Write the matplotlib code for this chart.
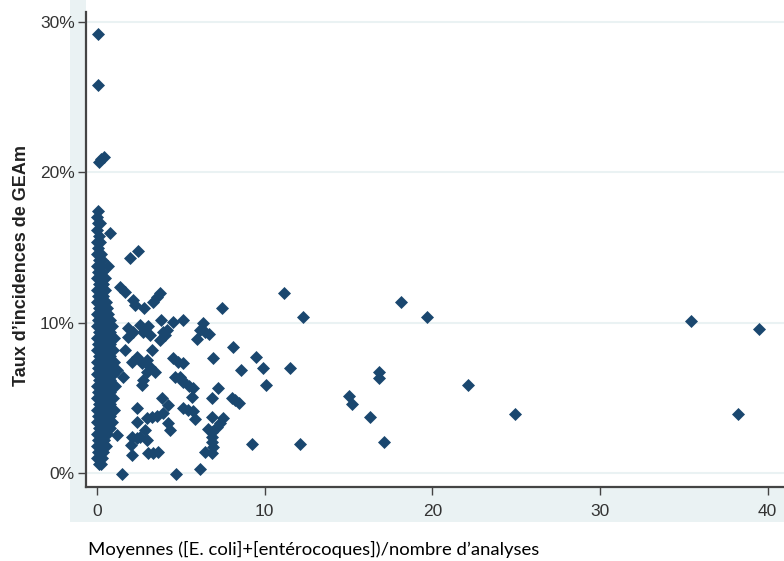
import matplotlib
matplotlib.use("Agg")
import matplotlib.pyplot as plt
from matplotlib.patches import Rectangle

# isolated points: mean (E. coli + enterococci) / n analyses vs incidence rate (%)
pts_x = [
    0.05, 0.05, 0.1, 0.25, 0.4,
    0.8, 0.65, 1.95, 2.45, 1.35, 1.65, 2.15, 2.25, 2.8, 3.35, 3.6, 3.75,
    1.85, 2.55, 3.05, 3.8, 4.5, 5.1, 3.95, 4.2, 7.45,
    6.3, 6.15, 6.45, 6.65, 5.95,
    1.85, 2.15, 2.75, 3.15, 4.05, 3.75, 1.65, 2.4, 2.1, 2.7, 3.0, 3.3,
    3.15, 3.0, 2.75, 2.7, 3.45, 4.5, 4.8, 5.1, 4.65, 5.05, 1.55, 1.2,
    3.9, 2.4, 4.25, 3.0, 3.3, 3.6, 3.95, 2.4, 4.25, 4.35,
    1.2, 2.1, 2.4, 2.55, 2.85, 3.0, 2.0, 2.1, 3.05, 3.35, 3.65, 1.5, 4.7,
    8.1, 6.9, 9.5, 9.9, 11.5, 8.6, 10.1, 4.95, 5.1, 5.5, 5.7, 5.65,
    7.2, 6.85, 8.05, 8.2, 8.45, 5.1, 5.4, 5.7, 5.85, 6.85, 7.5, 7.35, 7.15,
    6.85, 6.85, 6.85, 6.9, 6.6, 6.45, 6.85, 9.25, 12.1, 6.15,
    11.15, 12.3, 18.1, 19.7, 35.4, 39.5, 22.1, 24.9, 38.2,
    16.8, 16.8, 15.0, 15.2, 16.3, 17.1,
]
pts_y = [
    29.2, 25.8, 20.7, 20.9, 21.0,
    16.0, 13.8, 14.3, 14.8, 12.4, 12.05, 11.5, 11.2, 11.0, 11.4, 11.7, 12.0,
    9.65, 9.85, 9.8, 10.2, 10.05, 10.2, 9.4, 9.5, 11.0,
    10.0, 9.5, 9.35, 9.25, 8.9,
    9.05, 9.4, 9.4, 9.2, 9.2, 8.85, 8.2, 7.7, 7.4, 7.3, 7.5, 8.2,
    7.05, 6.7, 6.2, 5.85, 6.7, 7.65, 7.4, 7.3, 6.4, 6.2, 6.4, 6.85,
    5.0, 4.3, 4.5, 3.65, 3.7, 3.8, 4.0, 3.4, 3.3, 2.85,
    2.5, 2.4, 2.3, 2.4, 2.85, 2.2, 1.85, 1.2, 1.35, 1.35, 1.4, -0.05, -0.05,
    8.4, 7.65, 7.7, 7.0, 7.0, 6.85, 5.85, 6.4, 6.05, 5.8, 5.65, 5.05,
    5.65, 5.0, 5.0, 4.85, 4.65, 4.3, 4.2, 4.1, 3.6, 3.7, 3.65, 3.3, 3.05,
    2.7, 2.4, 2.05, 1.7, 2.9, 1.4, 1.3, 1.9, 1.9, 0.27,
    12.0, 10.4, 11.4, 10.4, 10.1, 9.6, 5.85, 3.95, 3.95,
    6.7, 6.3, 5.1, 4.6, 3.7, 2.05,
]

# dense column of sites with very low contamination (x near 0)
col_y = [
    17.4,
    17.0,
    16.6, 16.6,
    16.2,
    15.8,
    15.4, 15.4,
    15.0,
    14.6, 14.6,
    14.2, 14.2,
    13.8, 13.8,
    13.4, 13.4,
    13.0, 13.0, 13.0,
    12.6, 12.6,
    12.2, 12.2, 12.2,
    11.8, 11.8,
    11.4, 11.4, 11.4,
    11.0, 11.0, 11.0,
    10.6, 10.6, 10.6,
    10.2, 10.2, 10.2,
    9.8, 9.8, 9.8, 9.8,
    9.4, 9.4, 9.4,
    9.0, 9.0, 9.0, 9.0,
    8.6, 8.6, 8.6,
    8.2, 8.2, 8.2, 8.2,
    7.8, 7.8, 7.8,
    7.4, 7.4, 7.4, 7.4,
    7.0, 7.0, 7.0,
    6.6, 6.6, 6.6, 6.6,
    6.2, 6.2, 6.2,
    5.8, 5.8, 5.8, 5.8,
    5.4, 5.4, 5.4,
    5.0, 5.0, 5.0, 5.0,
    4.6, 4.6, 4.6,
    4.2, 4.2, 4.2, 4.2,
    3.8, 3.8, 3.8,
    3.4, 3.4, 3.4, 3.4,
    3.0, 3.0, 3.0,
    2.6, 2.6, 2.6,
    2.2, 2.2,
    1.8, 1.8, 1.8,
    1.4, 1.4,
    1.0, 1.0,
    0.6, 0.6,
]
col_x = [
    0.05,
    0.0,
    0.05, 0.2,
    0.0,
    0.1,
    0.0, 0.2,
    0.05,
    0.0, 0.25,
    0.1, 0.3,
    0.0, 0.2,
    0.05, 0.3,
    0.0, 0.25, 0.45,
    0.1, 0.35,
    0.0, 0.25, 0.5,
    0.05, 0.35,
    0.0, 0.3, 0.55,
    0.1, 0.4, 0.6,
    0.0, 0.3, 0.65,
    0.05, 0.4, 0.75,
    0.0, 0.35, 0.7, 0.9,
    0.1, 0.45, 0.8,
    0.0, 0.35, 0.7, 1.0,
    0.05, 0.4, 0.75,
    0.0, 0.35, 0.7, 0.95,
    0.1, 0.45, 0.8,
    0.0, 0.35, 0.7, 1.0,
    0.05, 0.4, 0.75,
    0.0, 0.35, 0.7, 0.95,
    0.1, 0.45, 0.8,
    0.0, 0.35, 0.7, 1.05,
    0.05, 0.4, 0.75,
    0.0, 0.35, 0.7, 0.95,
    0.1, 0.45, 0.8,
    0.0, 0.35, 0.7, 1.0,
    0.05, 0.4, 0.75,
    0.0, 0.35, 0.7, 0.9,
    0.1, 0.45, 0.75,
    0.0, 0.3, 0.6,
    0.05, 0.4,
    0.0, 0.3, 0.55,
    0.05, 0.35,
    0.0, 0.3,
    0.1, 0.25,
]

x_ticks = [0, 10, 20, 30, 40]
y_ticks = [0, 10, 20, 30]
y_tick_labels = ["0%", "10%", "20%", "30%"]

NAVY = "#1a476f"
BAND = "#eaf2f3"
W, H = 784, 561

fig = plt.figure(figsize=(W / 100, H / 100), dpi=100)
fig.patch.set_facecolor("white")

# light graph-region band: a strip left of the y axis and one below the x axis
fig.patches.append(Rectangle((70 / W, (H - 522) / H), 16 / W, 522 / H,
                             transform=fig.transFigure, facecolor=BAND,
                             edgecolor="none", zorder=0))
fig.patches.append(Rectangle((70 / W, (H - 522) / H), 1, 35 / H,
                             transform=fig.transFigure, facecolor=BAND,
                             edgecolor="none", zorder=0))

ax = fig.add_axes([86 / W, (H - 487) / H, (W - 86) / W, (487 - 12) / H])
ax.set_facecolor("white")
ax.set_zorder(1)

ax.scatter(col_x + pts_x, col_y + pts_y, marker="D", s=44, color=NAVY,
           linewidths=0, zorder=3, clip_on=False)

ax.set_xlim(-0.66, 40.97)
ax.set_ylim(-0.93, 30.67)
ax.set_xticks(x_ticks)
ax.set_yticks(y_ticks)
ax.set_yticklabels(y_tick_labels)
ax.grid(axis="y", color=BAND, linewidth=1.5)
ax.set_axisbelow(True)

for side in ("top", "right"):
    ax.spines[side].set_visible(False)
for side in ("left", "bottom"):
    ax.spines[side].set_color("#444444")
    ax.spines[side].set_linewidth(1.6)

ax.tick_params(axis="both", direction="out", length=6, width=1.0, color="#444444",
               labelsize=12.5, labelcolor="#333333")
ax.tick_params(axis="x", pad=6)
ax.tick_params(axis="y", pad=2)
for lab in ax.get_xticklabels() + ax.get_yticklabels():
    lab.set_fontfamily("Liberation Sans")

fig.text(22 / W, 1 - 265 / H, "Taux d\u2019incidences de GEAm", rotation=90,
         ha="center", va="center", fontsize=13, fontweight="bold",
         family="Liberation Sans", color="#222222")
fig.text(88 / W, 1 - 549 / H,
         "Moyennes ([E. coli]+[ent\u00e9rocoques])/nombre d\u2019analyses",
         ha="left", va="center", fontsize=13.3, family="Lato", color="#000000")

fig.savefig("out.png", dpi=100)
